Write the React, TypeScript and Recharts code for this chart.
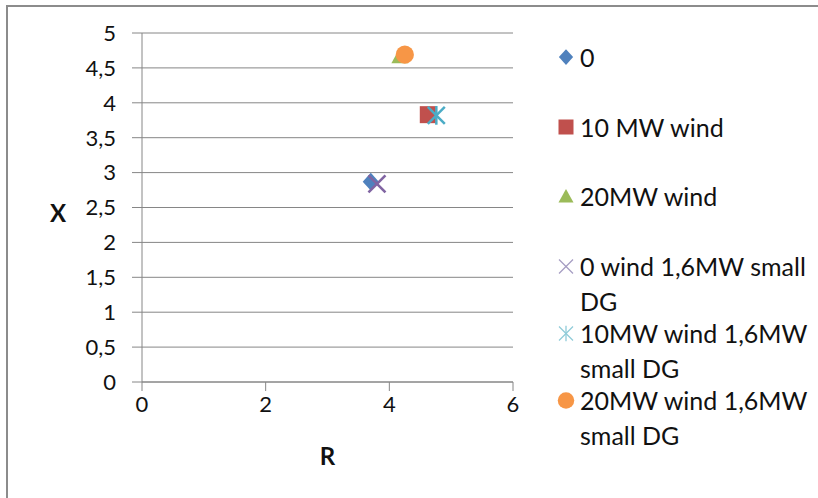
import React from 'react';
import { ScatterChart, Scatter, XAxis, YAxis, CartesianGrid, Legend } from 'recharts';

const seriesNames = [
  '0',
  '10 MW wind',
  '20MW wind',
  '0 wind 1,6MW small DG',
  '10MW wind 1,6MW small DG',
  '20MW wind 1,6MW small DG',
];
const legendLines = [
  ['0'],
  ['10 MW wind'],
  ['20MW wind'],
  ['0 wind 1,6MW small', 'DG'],
  ['10MW wind 1,6MW', 'small DG'],
  ['20MW wind 1,6MW', 'small DG'],
];
const rValues = [3.7, 4.63, 4.17, 3.8, 4.76, 4.25];
const xValues = [2.87, 3.83, 4.67, 2.84, 3.82, 4.69];
const seriesColors = ['#4F81BD', '#C0504D', '#9BBB59', '#8064A2', '#4BACC6', '#F79646'];
const markerKinds = ['diamond', 'square', 'triangle', 'x', 'asterisk', 'circle'];
const yTicks = [0, 0.5, 1, 1.5, 2, 2.5, 3, 3.5, 4, 4.5, 5];
const xTicks = [0, 2, 4, 6];

const AXIS = '#868686';
const TEXT = '#111111';
const FONT = 'Lato';

function marker(kind: string, cx: number, cy: number, color: string, s: number, sw: number) {
  switch (kind) {
    case 'diamond':
      return <polygon points={`${cx},${cy - s * 1.05} ${cx + s * 0.95},${cy} ${cx},${cy + s * 1.05} ${cx - s * 0.95},${cy}`} fill={color} />;
    case 'square':
      return <rect x={cx - s} y={cy - s} width={2 * s} height={2 * s} fill={color} />;
    case 'triangle':
      return <polygon points={`${cx},${cy - s * 0.95} ${cx + s},${cy + s * 0.85} ${cx - s},${cy + s * 0.85}`} fill={color} />;
    case 'x':
      return (
        <g stroke={color} strokeWidth={sw}>
          <line x1={cx - s} y1={cy - s} x2={cx + s} y2={cy + s} />
          <line x1={cx - s} y1={cy + s} x2={cx + s} y2={cy - s} />
        </g>
      );
    case 'asterisk':
      return (
        <g stroke={color} strokeWidth={sw}>
          <line x1={cx - s} y1={cy - s} x2={cx + s} y2={cy + s} />
          <line x1={cx - s} y1={cy + s} x2={cx + s} y2={cy - s} />
          <line x1={cx} y1={cy - s * 1.1} x2={cx} y2={cy + s * 1.1} />
        </g>
      );
    default:
      return <circle cx={cx} cy={cy} r={s * 1.1} fill={color} />;
  }
}

const legendContent = () => (
  <div style={{ fontFamily: FONT, fontSize: 25, color: TEXT }}>
    {legendLines.map((lines, i) => {
      const multi = lines.length > 1;
      return (
        <div
          key={i}
          style={{
            display: 'flex',
            alignItems: 'flex-start',
            marginBottom: multi ? -3 : 35.5,
            lineHeight: multi ? '35px' : '34px',
          }}
        >
          <svg width={25} height={multi ? 35 : 34} style={{ flex: 'none' }}>
            {markerKinds[i] === 'x' || markerKinds[i] === 'asterisk'
              ? marker(markerKinds[i], 11, multi ? 17.5 : 17, i === 3 ? '#a59cc2' : '#8fcbd9', 7, 1.3)
              : marker(markerKinds[i], 11, multi ? 17.5 : 17, seriesColors[i], 7.5, 1)}
          </svg>
          <div style={{ whiteSpace: 'nowrap' }}>
            {lines.map((l, j) => (
              <div key={j}>{l}</div>
            ))}
          </div>
        </div>
      );
    })}
  </div>
);

export default function App() {
  const series = seriesNames.map((name, i) => ({
    name,
    data: [{ r: rValues[i], x: xValues[i] }],
  }));
  return (
    <div style={{ position: 'absolute', left: 0, top: 0, width: 818, height: 498, overflow: 'hidden', background: '#fff' }}>
      <div
        style={{
          position: 'absolute',
          left: 6,
          top: 5,
          width: 812,
          height: 493,
          boxSizing: 'border-box',
          borderTop: '2px solid #8c8c8c',
          borderLeft: '2px solid #8c8c8c',
        }}
      />
      <div style={{ position: 'absolute', left: 0, top: 0 }}>
        <ScatterChart
          width={818}
          height={498}
          margin={{ top: 33, right: 305, bottom: 16, left: 42 }}
          style={{ fontFamily: FONT }}
        >
          <CartesianGrid horizontal={true} vertical={false} stroke={AXIS} strokeWidth={1} />
          <XAxis
            type="number"
            dataKey="r"
            domain={[0, 6]}
            ticks={xTicks}
            interval={0}
            height={100}
            tickSize={9}
            tickMargin={5}
            axisLine={{ stroke: AXIS }}
            tickLine={{ stroke: AXIS }}
            tick={{ fontSize: 22, fill: TEXT, fontFamily: FONT }}
            label={{ value: 'R', position: 'insideBottom', offset: 17, fontSize: 24, fontWeight: 700, fill: TEXT, fontFamily: FONT }}
          />
          <YAxis
            type="number"
            dataKey="x"
            domain={[0, 5]}
            ticks={yTicks}
            interval={0}
            width={100}
            tickSize={10}
            tickMargin={16}
            tickFormatter={(v: number) => String(v).replace('.', ',')}
            axisLine={{ stroke: AXIS }}
            tickLine={{ stroke: AXIS }}
            tick={{ fontSize: 22, fill: TEXT, fontFamily: FONT }}
            label={{ value: 'X', position: 'insideLeft', offset: 8, dy: 6, fontSize: 24, fontWeight: 700, fill: TEXT, fontFamily: FONT }}
          />
          <Legend
            layout="vertical"
            align="center"
            verticalAlign="middle"
            content={legendContent}
            wrapperStyle={{ left: 555, top: 40, width: 263 }}
          />
          {series.map((s, i) => (
            <Scatter
              key={s.name}
              name={s.name}
              data={s.data}
              fill={seriesColors[i]}
              isAnimationActive={false}
              shape={(p: any) => marker(markerKinds[i], p.cx, p.cy, seriesColors[i], markerKinds[i] === 'circle' ? 8.3 : 8.5, 2.5)}
            />
          ))}
        </ScatterChart>
      </div>
    </div>
  );
}
